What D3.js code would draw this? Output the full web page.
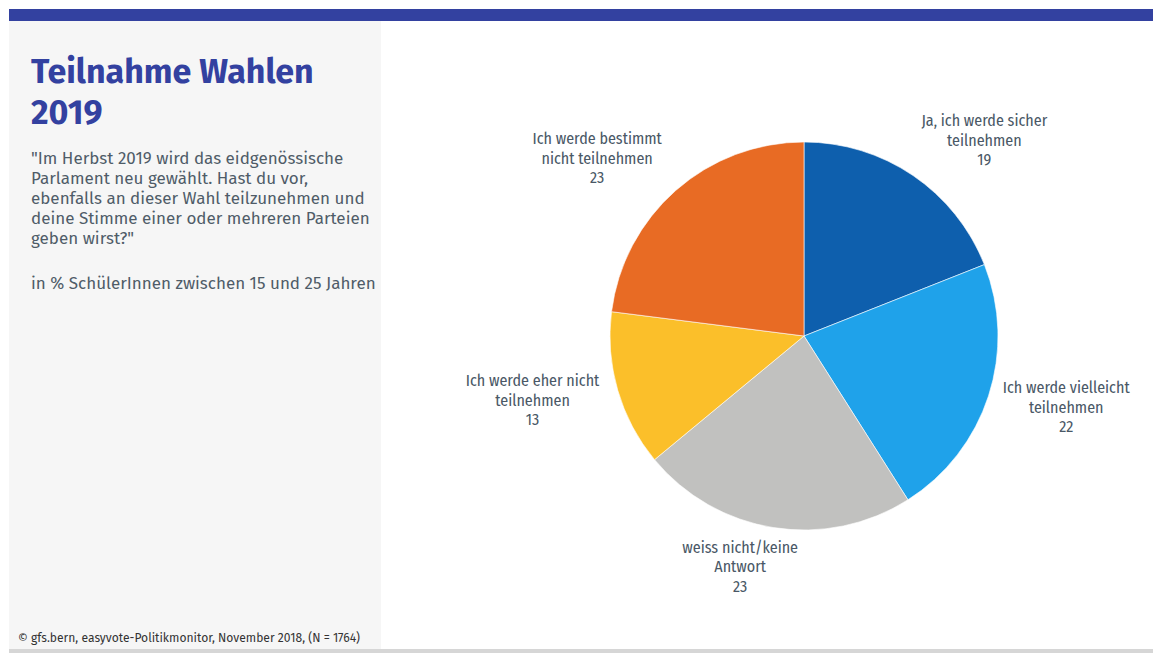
<!DOCTYPE html>
<html lang="de">
<head>
<meta charset="utf-8">
<title>Teilnahme Wahlen 2019</title>
<script src="https://cdn.jsdelivr.net/npm/d3@7"></script>
<style>
  html, body { margin: 0; padding: 0; background: #fff; }
  svg { display: block; }
</style>
</head>
<body>
<div id="chart"></div>
<script>
// Survey answers, clockwise from 12 o'clock
const categories = [
  ["Ja, ich werde sicher", "teilnehmen"],
  ["Ich werde vielleicht", "teilnehmen"],
  ["weiss nicht/keine", "Antwort"],
  ["Ich werde eher nicht", "teilnehmen"],
  ["Ich werde bestimmt", "nicht teilnehmen"]
];
const values = [19, 22, 23, 13, 23];
const colors = ["#0e5fad", "#1fa2ea", "#c1c1bf", "#fbbf2a", "#e86b24"];

const titleLines = ["Teilnahme Wahlen", "2019"];
const questionLines = [
  "\"Im Herbst 2019 wird das eidgenössische",
  "Parlament neu gewählt. Hast du vor,",
  "ebenfalls an dieser Wahl teilzunehmen und",
  "deine Stimme einer oder mehreren Parteien",
  "geben wirst?\""
];
const unitNote = "in % SchülerInnen zwischen 15 und 25 Jahren";
const sourceNote = "© gfs.bern, easyvote-Politikmonitor, November 2018, (N = 1764)";

const W = 1153, H = 653;
const svg = d3.select("#chart").append("svg")
  .attr("width", W).attr("height", H)
  .attr("viewBox", `0 0 ${W} ${H}`);

// frame: top band, side panel, bottom strip
svg.append("rect").attr("x", 9).attr("y", 9).attr("width", W - 9).attr("height", 12).attr("fill", "#3341a0");
svg.append("rect").attr("x", 9).attr("y", 21).attr("width", 372).attr("height", 628).attr("fill", "#f6f6f6");
svg.append("rect").attr("x", 9).attr("y", 649).attr("width", W - 9).attr("height", 4).attr("fill", "#d6d6d6");

const sans = "'Fira Sans', 'Open Sans', 'Noto Sans', sans-serif";
const narrow = "'Fira Sans Condensed', 'Fira Sans', 'Liberation Sans Narrow', Roboto, sans-serif";

// title
const title = svg.append("text")
  .attr("font-family", sans).attr("font-weight", 700)
  .attr("font-size", 34).attr("fill", "#3341a0");
titleLines.forEach((t, i) => {
  title.append("tspan").attr("x", 31).attr("y", 83 + i * 41).text(t);
});

// question text
const q = svg.append("text")
  .attr("font-family", sans).attr("font-size", 17).attr("fill", "#4f5c68");
questionLines.forEach((t, i) => {
  q.append("tspan").attr("x", 31).attr("y", 164 + i * 20).text(t);
});
svg.append("text")
  .attr("font-family", sans).attr("font-size", 17).attr("fill", "#4f5c68")
  .attr("x", 31).attr("y", 289).text(unitNote);

// source
svg.append("text")
  .attr("font-family", sans).attr("font-size", 12.1).attr("fill", "#333")
  .attr("x", 18).attr("y", 642).text(sourceNote);

// pie
const cx = 804, cy = 336, R = 194;
const pie = d3.pie().sort(null).value(d => d)(values);
const arc = d3.arc().innerRadius(0).outerRadius(R);

const g = svg.append("g").attr("transform", `translate(${cx},${cy})`);
g.selectAll("path.slice")
  .data(pie)
  .join("path")
  .attr("class", "slice")
  .attr("d", arc)
  .attr("fill", (d, i) => colors[i])
  .attr("stroke", "#fff")
  .attr("stroke-width", 0.6);

// data labels placed just outside the rim
const labelR = R + 15;
const lineH = 19.5;
pie.forEach((d, i) => {
  const a = (d.startAngle + d.endAngle) / 2;
  const px = Math.sin(a) * labelR;
  const py = -Math.cos(a) * labelR;
  const lines = categories[i].concat([String(values[i])]);

  const t = g.append("text")
    .attr("font-family", narrow).attr("font-size", 16)
    .attr("fill", "#4a5866").attr("text-anchor", "middle");
  const spans = lines.map((s, k) => t.append("tspan").text(s));
  const w = d3.max(spans, s => s.node().getComputedTextLength());

  const f = Math.max(-1, Math.min(1, Math.sin(a) * 3));
  const bx = px + (w / 2) * f + (Math.sin(a) < 0 ? -4 : 0);
  const boxH = lines.length * lineH;
  const by = py - 26 * Math.cos(a) - boxH / 2;
  spans.forEach((s, k) => s.attr("x", bx).attr("y", by + 14 + k * lineH));
});
</script>
</body>
</html>
